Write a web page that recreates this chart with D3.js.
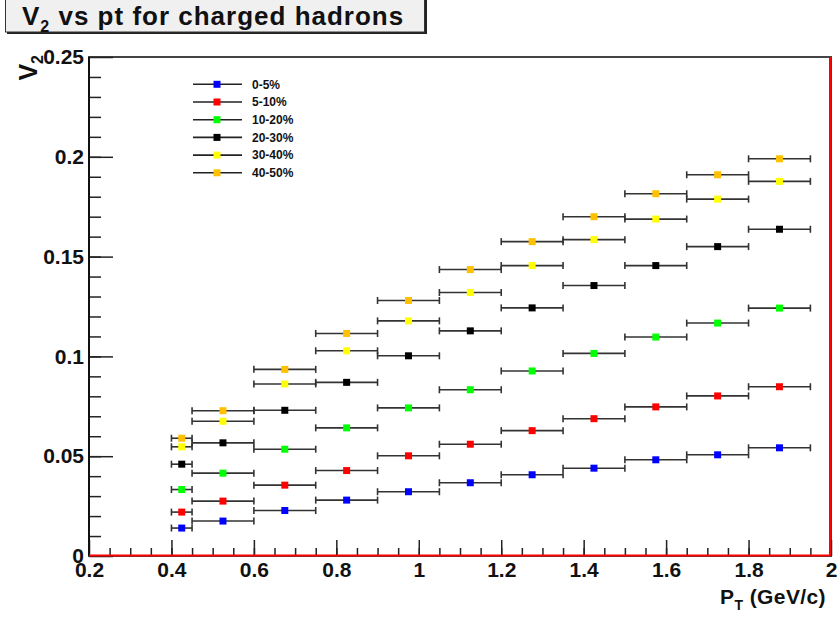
<!DOCTYPE html>
<html>
<head>
<meta charset="utf-8">
<script src="https://cdn.jsdelivr.net/npm/d3@7"></script>
<style>
  body { margin: 0; background: #fff; }
  text { font-family: "Liberation Sans", Arial, Helvetica, sans-serif; font-weight: bold; fill: #111; }
</style>
</head>
<body>
<div id="chart"></div>
<script>
// pT bins (GeV/c)
var binLow  = [0.40, 0.45, 0.60, 0.75, 0.90, 1.05, 1.20, 1.35, 1.50, 1.65, 1.80];
var binHigh = [0.45, 0.60, 0.75, 0.90, 1.05, 1.20, 1.35, 1.50, 1.65, 1.80, 1.95];

var centralities = ["0-5%", "5-10%", "10-20%", "20-30%", "30-40%", "40-50%"];
var colors = ["#0000ff", "#ff0000", "#00ff00", "#000000", "#ffff00", "#ffc000"];

var v2_0_5   = [0.0140, 0.0175, 0.0228, 0.0280, 0.0322, 0.0367, 0.0407, 0.0440, 0.0482, 0.0507, 0.0542];
var v2_5_10  = [0.0220, 0.0275, 0.0355, 0.0428, 0.0502, 0.0560, 0.0628, 0.0688, 0.0747, 0.0802, 0.0848];
var v2_10_20 = [0.0333, 0.0415, 0.0535, 0.0642, 0.0742, 0.0833, 0.0927, 0.1015, 0.1097, 0.1167, 0.1242];
var v2_20_30 = [0.0460, 0.0567, 0.0730, 0.0870, 0.1003, 0.1128, 0.1243, 0.1355, 0.1455, 0.1550, 0.1637];
var v2_30_40 = [0.0547, 0.0675, 0.0862, 0.1028, 0.1178, 0.1320, 0.1455, 0.1585, 0.1688, 0.1788, 0.1877];
var v2_40_50 = [0.0590, 0.0728, 0.0935, 0.1115, 0.1280, 0.1435, 0.1575, 0.1700, 0.1815, 0.1910, 0.1990];

var xTicks = [0.2, 0.4, 0.6, 0.8, 1.0, 1.2, 1.4, 1.6, 1.8, 2.0];
var xTickLabels = ["0.2", "0.4", "0.6", "0.8", "1", "1.2", "1.4", "1.6", "1.8", "2"];
var yTicks = [0, 0.05, 0.1, 0.15, 0.2, 0.25];
var yTickLabels = ["0", "0.05", "0.1", "0.15", "0.2", "0.25"];

var series = [v2_0_5, v2_5_10, v2_10_20, v2_20_30, v2_30_40, v2_40_50].map(function (vals, i) {
    return {
        name: centralities[i],
        color: colors[i],
        points: vals.map(function (v, j) {
            return {lo: binLow[j], hi: binHigh[j], x: (binLow[j] + binHigh[j]) / 2, y: v};
        })
    };
});

var W = 837, H = 617;
var margin = {top: 57, right: 6, bottom: 61, left: 89};
var width = W - margin.left - margin.right,
    height = H - margin.top - margin.bottom;

var svg = d3.select("#chart").append("svg")
    .attr("width", W)
    .attr("height", H);

// title box
var tb = svg.append("g");
tb.append("rect").attr("x", 7).attr("y", -5).attr("width", 420).attr("height", 39).attr("fill", "#222");
tb.append("rect").attr("x", 5.5).attr("y", -5).attr("width", 419).attr("height", 37)
    .attr("fill", "#f0f0f0").attr("stroke", "#333").attr("stroke-width", 1);
var title = tb.append("text").attr("x", 22).attr("y", 25)
    .style("font-size", "26px").style("letter-spacing", "1px");
title.append("tspan").text("V");
title.append("tspan").attr("dy", 7).style("font-size", "16px").text("2");
title.append("tspan").attr("dy", -7).text(" vs pt for charged hadrons");

var g = svg.append("g")
    .attr("transform", "translate(" + margin.left + "," + margin.top + ")");

var x = d3.scaleLinear().domain([0.2, 2]).range([0, width]);
var y = d3.scaleLinear().domain([0, 0.25]).range([height, 0]);

// frame
g.append("rect").attr("width", width).attr("height", height)
    .attr("fill", "none").attr("stroke", "#444").attr("stroke-width", 2);

// minor ticks
g.append("g")
    .attr("transform", "translate(0," + height + ")")
    .call(d3.axisBottom(x).tickValues(d3.range(0.25, 2, 0.05)).tickSize(-8).tickFormat(""))
    .call(function (a) { a.select(".domain").remove(); a.selectAll("line").attr("stroke", "#222").attr("stroke-width", 1.5); });
g.append("g")
    .call(d3.axisLeft(y).tickValues(d3.range(0.01, 0.25, 0.01)).tickSize(-12).tickFormat(""))
    .call(function (a) { a.select(".domain").remove(); a.selectAll("line").attr("stroke", "#222").attr("stroke-width", 1.5); });

// major ticks + labels
var xAxis = g.append("g")
    .attr("transform", "translate(0," + height + ")")
    .call(d3.axisBottom(x).tickValues(xTicks).tickSize(-16).tickPadding(6)
        .tickFormat(function (d, i) { return xTickLabels[i]; }));
xAxis.select(".domain").remove();
xAxis.selectAll("line").attr("stroke", "#222").attr("stroke-width", 1.5);
xAxis.selectAll("text").style("font-size", "21px").style("font-family", null).attr("fill", "#111");

var yAxis = g.append("g")
    .call(d3.axisLeft(y).tickValues(yTicks).tickSize(-24).tickPadding(5)
        .tickFormat(function (d, i) { return yTickLabels[i]; }));
yAxis.select(".domain").remove();
yAxis.selectAll("line").attr("stroke", "#222").attr("stroke-width", 1.5);
yAxis.selectAll("text").style("font-size", "21px").style("font-family", null).attr("fill", "#111");

// left axis line
g.append("line").attr("x1", 0).attr("x2", 0).attr("y1", 0).attr("y2", height)
    .attr("stroke", "#111").attr("stroke-width", 2);

// red lines along bottom and right
g.append("line").attr("x1", 0).attr("x2", width - 1).attr("y1", height - 0.5).attr("y2", height - 0.5)
    .attr("stroke", "#ff0000").attr("stroke-width", 2);
g.append("line").attr("x1", width - 1).attr("x2", width - 1).attr("y1", 0).attr("y2", height)
    .attr("stroke", "#ff0000").attr("stroke-width", 2);

// axis titles
var xt = g.append("text").attr("x", width - 5).attr("y", height + 48)
    .attr("text-anchor", "end").style("font-size", "21px").style("letter-spacing", "0.4px");
xt.append("tspan").text("P");
xt.append("tspan").attr("dy", 6).style("font-size", "14px").text("T");
xt.append("tspan").attr("dy", -6).text(" (GeV/c)");

var yt = svg.append("text")
    .attr("transform", "translate(37," + (margin.top - 2) + ") rotate(-90)")
    .attr("text-anchor", "end").style("font-size", "25px");
yt.append("tspan").text("V");
yt.append("tspan").attr("dy", 6).style("font-size", "16px").text("2");

// data: horizontal error bars + square markers
var sg = g.selectAll(".series")
    .data(series)
    .enter().append("g")
    .attr("class", "series");

var pts = sg.selectAll(".pt")
    .data(function (d) { return d.points.map(function (p) { p.color = d.color; return p; }); })
    .enter().append("g")
    .attr("class", "pt");

pts.append("line")
    .attr("x1", function (d) { return x(d.lo); })
    .attr("x2", function (d) { return x(d.hi); })
    .attr("y1", function (d) { return y(d.y); })
    .attr("y2", function (d) { return y(d.y); })
    .attr("stroke", "#333").attr("stroke-width", 1.6);
pts.append("line")
    .attr("x1", function (d) { return x(d.lo); })
    .attr("x2", function (d) { return x(d.lo); })
    .attr("y1", function (d) { return y(d.y) - 3.5; })
    .attr("y2", function (d) { return y(d.y) + 3.5; })
    .attr("stroke", "#333").attr("stroke-width", 1.6);
pts.append("line")
    .attr("x1", function (d) { return x(d.hi); })
    .attr("x2", function (d) { return x(d.hi); })
    .attr("y1", function (d) { return y(d.y) - 3.5; })
    .attr("y2", function (d) { return y(d.y) + 3.5; })
    .attr("stroke", "#333").attr("stroke-width", 1.6);
pts.append("rect")
    .attr("x", function (d) { return x(d.x) - 3.5; })
    .attr("y", function (d) { return y(d.y) - 3.5; })
    .attr("width", 7).attr("height", 7)
    .attr("fill", function (d) { return d.color; });

// legend
var legend = svg.selectAll(".legend")
    .data(series)
    .enter().append("g")
    .attr("class", "legend")
    .attr("transform", function (d, i) { return "translate(193," + (84.3 + i * 17.7) + ")"; });

legend.append("line").attr("x1", 0).attr("x2", 49).attr("y1", 0).attr("y2", 0)
    .attr("stroke", "#222").attr("stroke-width", 1.6);
legend.append("rect").attr("x", 20.5).attr("y", -3.5).attr("width", 7).attr("height", 7)
    .style("fill", function (d) { return d.color; });
legend.append("text").attr("x", 59).attr("y", 0).attr("dy", ".35em")
    .style("font-size", "12px")
    .text(function (d) { return d.name; });
</script>
</body>
</html>
